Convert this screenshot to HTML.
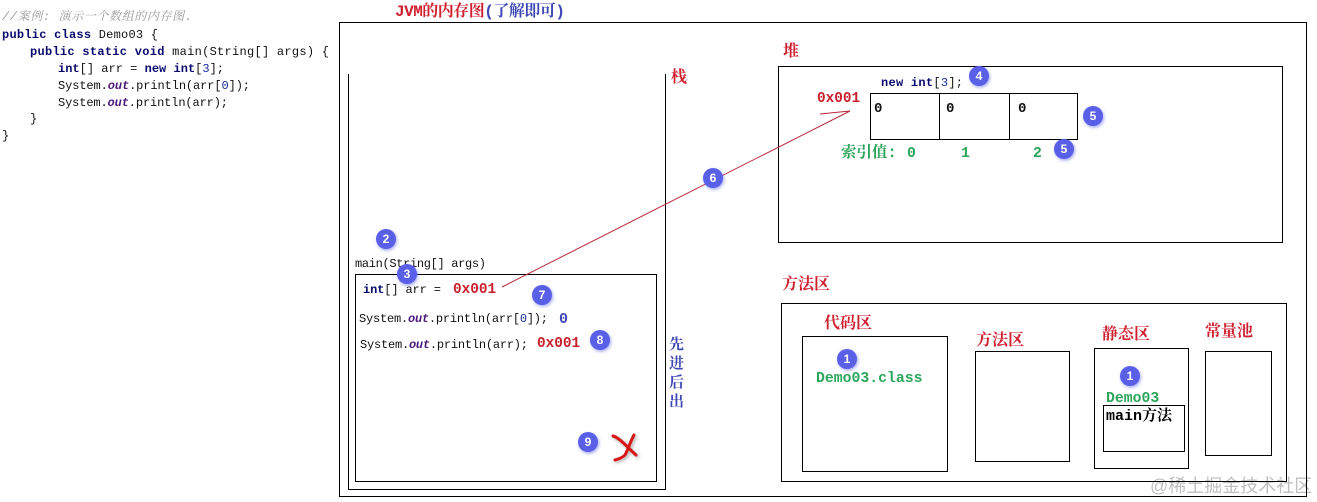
<!DOCTYPE html>
<html><head><meta charset="utf-8">
<style>
html,body{margin:0;padding:0;background:#fff;width:1317px;height:502px;overflow:hidden}
svg{display:block}
text{font-family:"Liberation Mono","Noto Serif CJK SC","Noto Sans CJK SC",monospace;white-space:pre}
.c{font-size:12px;fill:#111}
.k{font-weight:bold;fill:#0a0a6e}
.o{font-weight:bold;font-style:italic;fill:#4b1a7a}
.n{fill:#1a2a9a}
.g{font-style:italic;fill:#999}
.r{font-size:16px;font-weight:bold;fill:#d02030}
.v{font-size:14.4px;font-weight:bold;fill:#c8202c}
.gr{font-size:14.8px;font-weight:bold;fill:#2ba55a}
.b{font-size:15px;font-weight:bold;fill:#3f47b5}
.bn{font:bold 12px "Liberation Sans",sans-serif;fill:#fff;text-anchor:middle}
rect,.l{fill:none;stroke:#000;stroke-width:1}
</style></head><body>
<svg width="1317" height="502" viewBox="0 0 1317 502" xmlns="http://www.w3.org/2000/svg">
<defs>
<filter id="s" x="-50%" y="-50%" width="200%" height="200%"><feDropShadow dx="1" dy="1.5" stdDeviation="1.5" flood-color="#5a5fe8" flood-opacity=".55"/></filter>
<filter id="x" x="-50%" y="-50%" width="200%" height="200%"><feDropShadow dx="1.5" dy="1.5" stdDeviation="1.5" flood-color="#555" flood-opacity=".5"/></filter>
</defs>

<text class="c g" x="2" y="20" textLength="190">//案例: 演示一个数组的内存图.</text>
<text class="c" x="2" y="38" textLength="156"><tspan class="k">public class</tspan> Demo03 {</text>
<text class="c" x="30" y="55" textLength="299"><tspan class="k">public static void</tspan> main(String[] args) {</text>
<text class="c" x="58" y="72" textLength="166"><tspan class="k">int</tspan>[] arr = <tspan class="k">new int</tspan>[<tspan class="n">3</tspan>];</text>
<text class="c" x="58" y="89" textLength="192"><tspan>System.</tspan><tspan class="o">out</tspan><tspan>.println(arr[</tspan><tspan class="n">0</tspan><tspan>]);</tspan></text>
<text class="c" x="58" y="106" textLength="170"><tspan>System.</tspan><tspan class="o">out</tspan><tspan>.println(arr);</tspan></text>
<text class="c" x="30" y="122">}</text>
<text class="c" x="2" y="139">}</text>

<rect x="339.5" y="22.5" width="967" height="474"/>
<text class="r" x="395" y="16" textLength="170">JVM的内存图<tspan style="fill:#3f47b5">(了解即可)</tspan></text>

<path class="l" d="M348.5 74V489.5H665.5V74"/>
<text class="r" x="671" y="82">栈</text>
<text class="b" x="669" y="349">先</text>
<text class="b" x="669" y="368">进</text>
<text class="b" x="669" y="387">后</text>
<text class="b" x="669" y="406">出</text>

<text class="c" x="355" y="267" textLength="131">main(String[] args)</text>
<rect x="355.5" y="274.5" width="301" height="207"/>
<text class="c" x="363" y="293" textLength="78"><tspan class="k">int</tspan>[] arr =</text>
<text class="v" x="453" y="293">0x001</text>
<text class="c" x="359" y="322" textLength="189"><tspan>System.</tspan><tspan class="o">out</tspan><tspan>.println(arr[</tspan><tspan class="n">0</tspan><tspan>]);</tspan></text>
<text class="b" x="559" y="323">0</text>
<text class="c" x="360" y="348" textLength="168"><tspan>System.</tspan><tspan class="o">out</tspan><tspan>.println(arr);</tspan></text>
<text class="v" x="537" y="347">0x001</text>

<text class="r" x="783" y="56">堆</text>
<rect x="778.5" y="66.5" width="504" height="176"/>
<text class="c" x="881" y="86" textLength="82"><tspan class="k">new int</tspan>[<tspan class="n">3</tspan>];</text>
<text class="v" x="817" y="102">0x001</text>
<rect x="870.5" y="93.5" width="207" height="46"/>
<path class="l" d="M939.5 93.5V139.5M1009.5 93.5V139.5"/>
<text class="c" style="font-weight:bold;font-size:14px" x="874" y="112">0</text>
<text class="c" style="font-weight:bold;font-size:14px" x="946" y="112">0</text>
<text class="c" style="font-weight:bold;font-size:14px" x="1018" y="112">0</text>
<text class="gr" style="font-size:15.5px" x="841" y="157">索引值:</text>
<text class="gr" x="907" y="157">0</text>
<text class="gr" x="961" y="157">1</text>
<text class="gr" x="1033" y="157">2</text>

<path d="M502 287L850 111M820 114L850 111" fill="none" stroke="#b8283c" stroke-width="1"/>

<text class="r" x="782" y="289">方法区</text>
<rect x="781.5" y="303.5" width="505" height="178"/>
<text class="r" x="824" y="328">代码区</text>
<rect x="802.5" y="336.5" width="145" height="135"/>
<text class="gr" x="816" y="382">Demo03.class</text>
<text class="r" x="976" y="345">方法区</text>
<rect x="975.5" y="351.5" width="94" height="110"/>
<text class="r" x="1102" y="339">静态区</text>
<rect x="1094.5" y="348.5" width="94" height="120"/>
<text class="gr" x="1106" y="402">Demo03</text>
<rect x="1103.5" y="405.5" width="81" height="46"/>
<text style="font-size:15px;font-weight:bold" x="1106" y="420">main方法</text>
<text class="r" x="1205" y="336">常量池</text>
<rect x="1205.5" y="351.5" width="66" height="104"/>

<g filter="url(#s)" fill="#5a5fe8">
<circle cx="386" cy="239" r="10"/><circle cx="407" cy="274" r="10"/><circle cx="542" cy="295" r="10"/>
<circle cx="600" cy="340" r="10"/><circle cx="588" cy="442" r="10"/><circle cx="713" cy="178" r="10"/>
<circle cx="979" cy="76" r="10"/><circle cx="1093" cy="116" r="10"/><circle cx="1064" cy="149" r="10"/>
<circle cx="847" cy="359" r="10"/><circle cx="1130" cy="376" r="10"/>
</g>
<text class="bn" x="386" y="243">2</text><text class="bn" x="407" y="278">3</text><text class="bn" x="542" y="299">7</text>
<text class="bn" x="600" y="344">8</text><text class="bn" x="588" y="446">9</text><text class="bn" x="713" y="182">6</text>
<text class="bn" x="979" y="80">4</text><text class="bn" x="1093" y="120">5</text><text class="bn" x="1064" y="153">5</text>
<text class="bn" x="847" y="363">1</text><text class="bn" x="1130" y="380">1</text>

<path d="M613 436C620 438 628 448 636 455M634 435C630 442 628 450 625 455C622 458 619 459 615 460" fill="none" stroke="#d81818" stroke-width="3" stroke-linecap="round" filter="url(#x)"/>

<text x="1150" y="492" style="font-family:'Liberation Sans','Noto Sans CJK SC',sans-serif;font-size:18px;fill:#000;opacity:.25">@稀土掘金技术社区</text>
</svg>
</body></html>
